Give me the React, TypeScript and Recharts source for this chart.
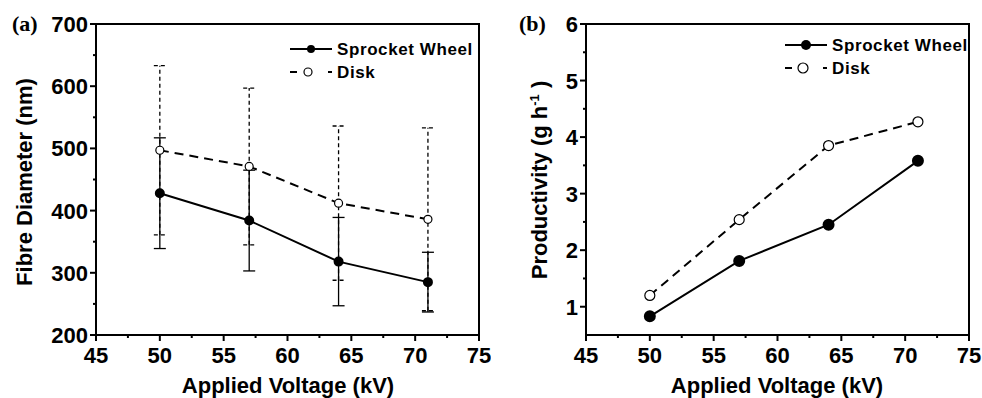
import React from 'react';
import { LineChart, Line, XAxis, YAxis, ErrorBar } from 'recharts';

const voltages = [50, 57, 64, 71];
const fibreSprocket = [428, 384, 318, 285];
const fibreSprocketErr = [89, 81, 71, 48];
const fibreDisk = [497, 471, 412, 386];
const fibreDiskErr = [136, 126, 124, 147];
const prodSprocket = [0.83, 1.81, 2.45, 3.58];
const prodDisk = [1.2, 2.54, 3.85, 4.27];

const voltageTicks = [45, 47.5, 50, 52.5, 55, 57.5, 60, 62.5, 65, 67.5, 70, 72.5, 75];
const fibreTicks = [200, 250, 300, 350, 400, 450, 500, 550, 600, 650, 700];
const prodTicks = [1, 1.5, 2, 2.5, 3, 3.5, 4, 4.5, 5, 5.5, 6];

const FONT = '"Liberation Sans", Arial, sans-serif';
const W = 491;
const H = 398;
const Y_AXIS_W = 60;
const X_AXIS_H = 63;
const margin = { top: 24, right: 12, left: 36, bottom: 0 };
const marginB = { ...margin, left: 35, right: 13 };
const axisLine = { stroke: '#000', strokeWidth: 2 };

const fibreData = voltages.map((v, i) => ({
  v,
  sprocket: fibreSprocket[i],
  sprocketErr: fibreSprocketErr[i],
  disk: fibreDisk[i],
  diskErr: fibreDiskErr[i],
}));

const prodData = voltages.map((v, i) => ({
  v,
  sprocket: prodSprocket[i],
  disk: prodDisk[i],
}));

const BottomTick = (props: any) => {
  const { x, y, payload } = props;
  const major = payload.value % 5 === 0;
  return (
    <g>
      <line x1={x} x2={x} y1={y} y2={y + (major ? 6 : 3)} stroke="#000" strokeWidth={2} />
      {major && (
        <text x={x} y={y + 28} textAnchor="middle" fontFamily={FONT} fontWeight="bold" fontSize={22} fill="#000">
          {payload.value}
        </text>
      )}
    </g>
  );
};

const makeLeftTick = (isMajor: (v: number) => boolean) => (props: any) => {
  const { x, y, payload } = props;
  const major = isMajor(payload.value);
  return (
    <g>
      <line x1={x - (major ? 6 : 3)} x2={x} y1={y} y2={y} stroke="#000" strokeWidth={2} />
      {major && (
        <text x={x - 8} y={y + 8} textAnchor="end" fontFamily={FONT} fontWeight="bold" fontSize={22} fill="#000">
          {payload.value}
        </text>
      )}
    </g>
  );
};

const FibreTick = makeLeftTick((v) => v % 100 === 0);
const ProdTick = makeLeftTick((v) => Number.isInteger(v));

// frame round a panel's plot area, from the chart's own margins
const Frame = ({ offsetX, m }: { offsetX: number; m: typeof margin }) => (
  <rect
    x={offsetX + m.left + Y_AXIS_W}
    y={m.top}
    width={W - m.left - Y_AXIS_W - m.right}
    height={H - m.top - X_AXIS_H - m.bottom}
    fill="none"
    stroke="#000"
    strokeWidth={2}
  />
);

const Legend = ({ x, y, r }: { x: number; y: number; r: number }) => (
  <g fontFamily={FONT} fontWeight="bold" fontSize={17} fill="#000">
    <line x1={x} x2={x + 42} y1={y} y2={y} stroke="#000" strokeWidth={2} />
    <circle cx={x + 21} cy={y} r={r} fill="#000" />
    <text x={x + 47} y={y + 6} letterSpacing={0.6}>Sprocket Wheel</text>
    <line x1={x} x2={x + 7} y1={y + 23} y2={y + 23} stroke="#000" strokeWidth={2} />
    <line x1={x + 38} x2={x + 42} y1={y + 23} y2={y + 23} stroke="#000" strokeWidth={2} />
    <circle cx={x + 18} cy={y + 23} r={r} fill="#fff" stroke="#000" strokeWidth={1.2} />
    <text x={x + 47} y={y + 29} letterSpacing={0.6}>Disk</text>
  </g>
);

const Panel = ({ left, children }: { left: number; children: React.ReactNode }) => (
  <div style={{ position: 'absolute', left, top: 0, width: W, height: H }}>{children}</div>
);

const bottomAxis = {
  dataKey: 'v',
  type: 'number' as const,
  domain: [45, 75],
  ticks: voltageTicks,
  interval: 0,
  tickLine: false,
  tickSize: 0,
  tickMargin: 0,
  height: X_AXIS_H,
  axisLine,
  tick: <BottomTick />,
};

export default function App() {
  return (
    <div style={{ position: 'absolute', left: 0, top: 0, width: 982, height: 398, background: '#fff' }}>
      <Panel left={0}>
        <LineChart width={W} height={H} data={fibreData} margin={margin}>
          <XAxis {...bottomAxis} />
          <YAxis
            type="number"
            domain={[200, 700]}
            ticks={fibreTicks}
            interval={0}
            tickLine={false}
            tickSize={0}
            tickMargin={0}
            width={Y_AXIS_W}
            axisLine={axisLine}
            tick={<FibreTick />}
          />
          <Line
            dataKey="disk"
            stroke="#000"
            strokeWidth={2}
            strokeDasharray="9 6"
            dot={{ r: 4, fill: '#fff', stroke: '#000', strokeWidth: 1.2, strokeDasharray: '0' }}
            isAnimationActive={false}
          >
            <ErrorBar dataKey="diskErr" width={6} stroke="#000" strokeWidth={1.3} strokeDasharray="4 3" />
          </Line>
          <Line
            dataKey="sprocket"
            stroke="#000"
            strokeWidth={2}
            dot={{ r: 4, fill: '#000', stroke: '#000' }}
            isAnimationActive={false}
          >
            <ErrorBar dataKey="sprocketErr" width={6} stroke="#000" strokeWidth={1.3} />
          </Line>
        </LineChart>
      </Panel>
      <Panel left={491}>
        <LineChart width={W} height={H} data={prodData} margin={marginB}>
          <XAxis {...bottomAxis} />
          <YAxis
            type="number"
            domain={[0.5, 6]}
            ticks={prodTicks}
            interval={0}
            tickLine={false}
            tickSize={0}
            tickMargin={0}
            width={Y_AXIS_W}
            axisLine={axisLine}
            tick={<ProdTick />}
          />
          <Line
            dataKey="disk"
            stroke="#000"
            strokeWidth={2}
            strokeDasharray="9 6"
            dot={{ r: 5, fill: '#fff', stroke: '#000', strokeWidth: 1.2, strokeDasharray: '0' }}
            isAnimationActive={false}
          />
          <Line
            dataKey="sprocket"
            stroke="#000"
            strokeWidth={2}
            dot={{ r: 5, fill: '#000', stroke: '#000' }}
            isAnimationActive={false}
          />
        </LineChart>
      </Panel>
      <svg width={982} height={398} style={{ position: 'absolute', left: 0, top: 0, pointerEvents: 'none' }}>
        <Frame offsetX={0} m={margin} />
        <Frame offsetX={491} m={marginB} />
        <text x={12} y={31} fontFamily='"Liberation Serif", "Times New Roman", serif' fontWeight="bold" fontSize={22}>(a)</text>
        <text x={519} y={31} fontFamily='"Liberation Serif", "Times New Roman", serif' fontWeight="bold" fontSize={22}>(b)</text>
        <Legend x={290} y={49} r={4} />
        <Legend x={785} y={45} r={5} />
        <text x={288} y={393} textAnchor="middle" fontFamily={FONT} fontWeight="bold" fontSize={22}>Applied Voltage (kV)</text>
        <text x={777} y={393} textAnchor="middle" fontFamily={FONT} fontWeight="bold" fontSize={22}>Applied Voltage (kV)</text>
        <text x={32} y={182} transform="rotate(-90 32 182)" textAnchor="middle" fontFamily={FONT} fontWeight="bold" fontSize={22}>
          Fibre Diameter (nm)
        </text>
        <text x={547} y={180} transform="rotate(-90 547 180)" textAnchor="middle" fontFamily={FONT} fontWeight="bold" fontSize={22}>
          Productivity (g h<tspan dy={-8} fontSize={13}>-1</tspan><tspan dy={8}> )</tspan>
        </text>
      </svg>
    </div>
  );
}
